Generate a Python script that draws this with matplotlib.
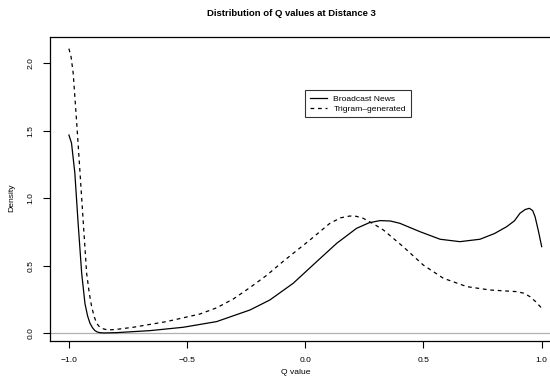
import matplotlib
matplotlib.use("Agg")
import matplotlib.pyplot as plt

plt.rcParams['font.family'] = ['Liberation Sans', 'DejaVu Sans']

# Broadcast News density
bn_x = [-1.0, -0.989, -0.975, -0.961, -0.946, -0.932, -0.921, -0.911, -0.900, -0.890, -0.880, -0.869,
        -0.85, -0.80, -0.657, -0.516, -0.375, -0.234, -0.150, -0.051, 0.048, 0.133, 0.217, 0.27,
        0.316, 0.36, 0.400, 0.485, 0.570, 0.654, 0.739, 0.80, 0.852, 0.885, 0.908, 0.930, 0.948,
        0.962, 0.972, 0.986, 1.0]
bn_y = [1.47, 1.41, 1.19, 0.816, 0.446, 0.22, 0.13, 0.076, 0.042, 0.021, 0.011, 0.006,
        0.004, 0.006, 0.021, 0.046, 0.088, 0.174, 0.248, 0.372, 0.532, 0.668, 0.779, 0.82,
        0.836, 0.833, 0.816, 0.754, 0.698, 0.680, 0.698, 0.74, 0.791, 0.835, 0.89, 0.918, 0.927,
        0.91, 0.865, 0.76, 0.643]

# Trigram-generated density
tg_x = [-1.0, -0.991, -0.982, -0.967, -0.953, -0.939, -0.925, -0.914, -0.904, -0.893, -0.883, -0.872,
        -0.862, -0.845, -0.834, -0.80, -0.728, -0.587, -0.446, -0.375, -0.305, -0.234, -0.164, -0.093,
        0.020, 0.104, 0.15, 0.189, 0.215, 0.245, 0.290, 0.330, 0.414, 0.499, 0.584, 0.683, 0.781,
        0.894, 0.925, 0.950, 0.975, 1.0]
tg_y = [2.11, 2.05, 1.93, 1.56, 1.19, 0.816, 0.446, 0.30, 0.20, 0.125, 0.076, 0.052,
        0.038, 0.030, 0.026, 0.030, 0.046, 0.088, 0.144, 0.19, 0.255, 0.34, 0.43, 0.535,
        0.693, 0.816, 0.857, 0.870, 0.868, 0.853, 0.81, 0.767, 0.643, 0.507, 0.409, 0.347, 0.322,
        0.31, 0.298, 0.273, 0.235, 0.187]

x_ticks = [-1.0, -0.5, 0.0, 0.5, 1.0]
x_ticklabels = ["\u22121.0", "\u22120.5", "0.0", "0.5", "1.0"]
y_ticks = [0.0, 0.5, 1.0, 1.5, 2.0]
y_ticklabels = ["0.0", "0.5", "1.0", "1.5", "2.0"]

W, H = 550, 382
fig = plt.figure(figsize=(W / 100, H / 100), dpi=100)
left, right, top, bottom = 50, 560.6, 37, 341.3
ax = fig.add_axes([left / W, (H - bottom) / H, (right - left) / W, (bottom - top) / H])
ax.set_xlim(-1.08, 1.08)
ax.set_ylim(-0.058, 2.196)

ax.axhline(0, color='#b0b0b0', lw=0.9, zorder=1)
ax.plot(bn_x, bn_y, color='black', lw=0.9, label='Broadcast News', zorder=3,
        solid_joinstyle='round')
ax.plot(tg_x, tg_y, color='black', lw=0.9, ls=(0, (3, 3)), label='Trigram\u2013generated', zorder=3)

for s in ax.spines.values():
    s.set_linewidth(0.9)
    s.set_color('black')

ax.set_xticks(x_ticks)
ax.set_xticklabels(x_ticklabels)
ax.set_yticks(y_ticks)
ax.set_yticklabels(y_ticklabels, rotation=90, va='center')
ax.tick_params(axis='both', length=5, width=0.8, labelsize=6.1, pad=6)

fig.text(296 / W, 1 - 372 / H, 'Q value', ha='center', va='center', fontsize=6.1)
fig.text(12 / W, 1 - 198 / H, 'Density', ha='center', va='center', rotation=90, fontsize=6.1)
fig.text(291 / W, 1 - 13 / H, 'Distribution of Q values at Distance 3', ha='center', va='center',
         fontsize=6.8, fontweight='bold')

leg = ax.legend(loc='upper left', bbox_to_anchor=(305 / W, 1 - 90 / H), bbox_transform=fig.transFigure,
                fontsize=6.1, frameon=True, fancybox=False, handlelength=2.0, handletextpad=0.8,
                borderpad=0.55, labelspacing=0.25, borderaxespad=0)
leg.get_frame().set_edgecolor('black')
leg.get_frame().set_linewidth(0.8)

fig.savefig('out.png', dpi=100)
